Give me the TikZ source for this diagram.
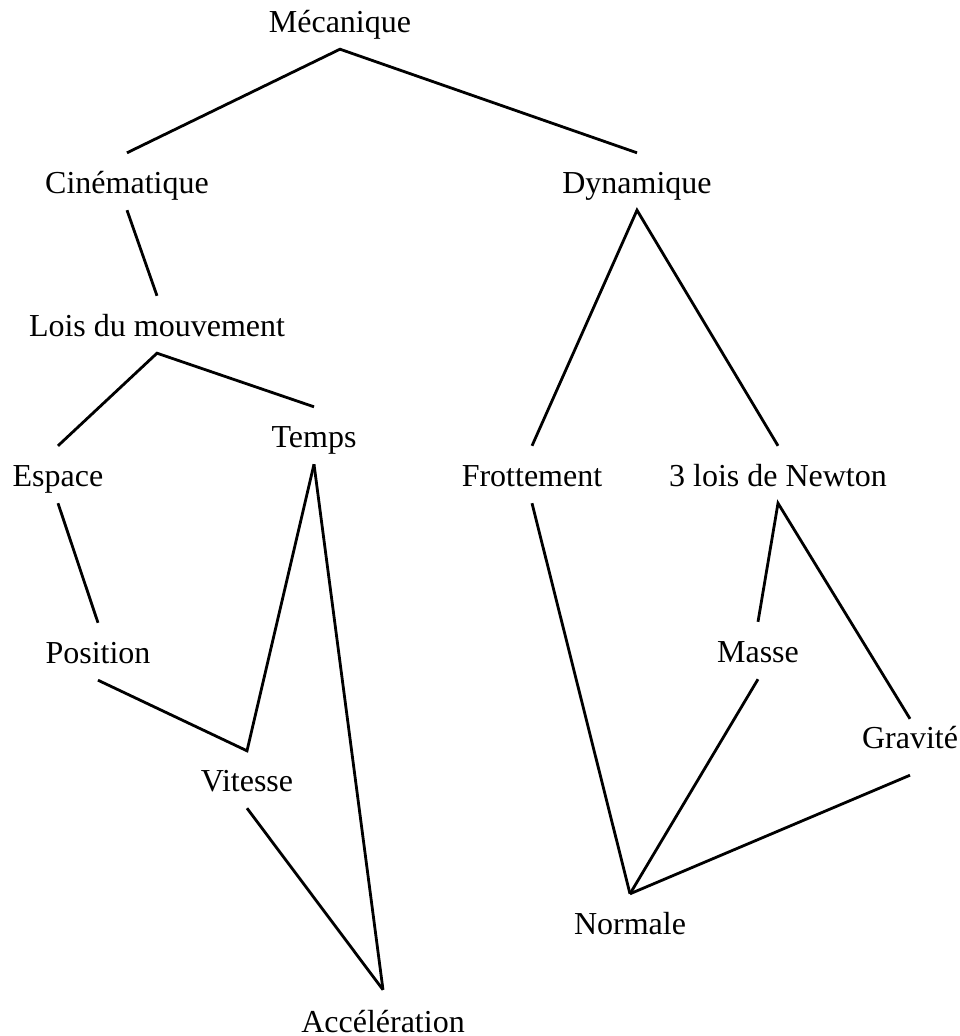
\documentclass[tikz,border=0pt]{standalone}
\usepackage{fontspec}
\setmainfont{Liberation Serif}
\begin{document}
\begin{tikzpicture}[x=1pt,y=-1pt,
  concept/.style={anchor=base, inner xsep=0pt, inner ysep=17pt, text height=23pt, text depth=0pt, font=\fontsize{32}{38}\selectfont},
  lowtop/.style={inner ysep=11pt, text height=18pt, text depth=16pt},
  bottomnode/.style={inner ysep=19pt, text height=23pt, text depth=0pt},
  link/.style={line width=2.8pt, black, line join=miter, miter limit=3}]
\useasboundingbox (0,0) rectangle (960,1036);
\node[concept] (mec) at (340,32) {Mécanique};
\node[concept] (cin) at (127,193) {Cinématique};
\node[concept] (dyn) at (637,193) {Dynamique};
\node[concept] (lois) at (157,336) {Lois du mouvement};
\node[concept] (esp) at (58,486) {Espace};
\node[concept] (tem) at (314,447) {Temps};
\node[concept] (fro) at (532,486) {Frottement};
\node[concept] (new) at (778,486) {3 lois de Newton};
\node[concept] (pos) at (98,663) {Position};
\node[concept] (mas) at (758,662) {Masse};
\node[concept] (vit) at (247,791) {Vitesse};
\node[concept,lowtop] (gra) at (910,748) {Gravité};
\node[concept] (nor) at (630,934) {Normale};
\node[concept,bottomnode] (acc) at (383,1032) {Accélération};

\draw[link] (cin.north) -- (mec.south) -- (dyn.north);
\draw[link] (cin.south) -- (lois.north);
\draw[link] (esp.north) -- (lois.south) -- (tem.north);
\draw[link] (fro.north) -- (dyn.south) -- (new.north);
\draw[link] (esp.south) -- (pos.north);
\draw[link] (pos.south) -- (vit.north) -- (tem.south);
\draw[link] (tem.south) -- (acc.north);
\draw[link] (vit.south) -- (acc.north);
\draw[link] (mas.north) -- (new.south) -- (gra.north);
\draw[link] (fro.south) -- (nor.north);
\draw[link] (mas.south) -- (nor.north);
\draw[link] (gra.south) -- (nor.north);
\end{tikzpicture}
\end{document}
